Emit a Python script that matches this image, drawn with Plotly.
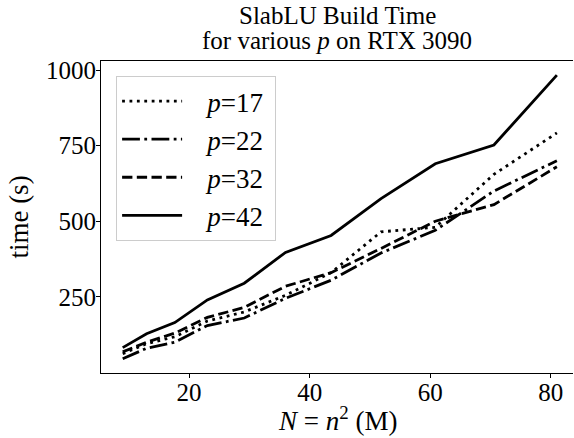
import plotly.graph_objects as go

# N = n^2 in millions (n = 3000 ... 9000 step 600)
N = [9, 12.96, 17.64, 23.04, 29.16, 36, 43.56, 51.84, 60.84, 70.56, 81]
p17 = [62, 95, 118, 170, 200, 255, 330, 465, 480, 655, 792]
p22 = [45, 80, 100, 155, 180, 245, 305, 395, 470, 600, 700]
p32 = [68, 100, 130, 182, 215, 285, 330, 410, 500, 555, 680]
p42 = [82, 128, 165, 240, 295, 397, 453, 575, 690, 752, 983]

names = ["<i>p</i>=17", "<i>p</i>=22", "<i>p</i>=32", "<i>p</i>=42"]
series = [p17, p22, p32, p42]
dashes = ["2.8px,4.6px", "17.8px,4.4px,2.8px,4.4px", "10.3px,4.4px", "solid"]

x_ticks = [20, 40, 60, 80]
y_ticks = [250, 500, 750, 1000]

FONT = "Liberation Serif"

fig = go.Figure()
for i, (nm, ys, ds) in enumerate(zip(names, series, dashes)):
    fig.add_trace(go.Scatter(
        x=N, y=ys, mode="lines", name="&nbsp;&nbsp;&nbsp;" + nm + "&nbsp;",
        line=dict(color="black", width=2.8, dash=ds),
        legendgroup=f"g{i}",
    ))

allv = [v for s in series for v in s]
lo, hi = min(allv), max(allv)
m = 0.05 * (hi - lo)
xlo, xhi = min(N), max(N)
xm = 0.05 * (xhi - xlo)

fig.update_layout(
    width=574, height=438,
    margin=dict(l=101, r=1, t=61, b=65),
    paper_bgcolor="white", plot_bgcolor="white",
    font=dict(family=FONT, size=25, color="black"),
    showlegend=True,
    legend=dict(
        x=0.032, y=0.952, xanchor="left", yanchor="top",
        bgcolor="rgba(255,255,255,0.8)", bordercolor="rgb(204,204,204)", borderwidth=1,
        font=dict(family=FONT, size=27, color="black"),
        itemwidth=60, traceorder="grouped", tracegroupgap=0,
    ),
    xaxis=dict(
        range=[xlo - xm, xlo - xm + 472 / 6.03],
        tickvals=x_ticks, ticktext=[str(t) for t in x_ticks],
        ticks="outside", ticklen=4, tickwidth=1, tickcolor="black",
        ticklabelstandoff=-7,
        showline=True, linecolor="black", linewidth=1.2, mirror=True,
        showgrid=False, zeroline=False,
    ),
    yaxis=dict(
        range=[lo - m, hi + m],
        tickvals=y_ticks, ticktext=[str(t) for t in y_ticks],
        ticks="outside", ticklen=4, tickwidth=1, tickcolor="black",
        ticklabelstandoff=-5,
        showline=True, linecolor="black", linewidth=1.2, mirror=False,
        showgrid=False, zeroline=False,
        title=dict(text="time (s)", standoff=9, font=dict(family=FONT, size=27)),
    ),
    annotations=[
        dict(text="SlabLU Build Time", x=0.5, y=1, xref="paper", yref="paper",
             yanchor="bottom", yshift=30, showarrow=False, font=dict(family=FONT, size=25)),
        dict(text="for various <i>p</i> on RTX 3090", x=0.5, y=1, xref="paper", yref="paper",
             yanchor="bottom", yshift=5, showarrow=False, font=dict(family=FONT, size=25)),
        dict(text="<i>N</i> = <i>n</i><sup>2</sup> (M)", x=0.5, y=0, xref="paper", yref="paper",
             yanchor="top", yshift=-27, showarrow=False, font=dict(family=FONT, size=27)),
    ],
)

fig.write_html("out.html")
